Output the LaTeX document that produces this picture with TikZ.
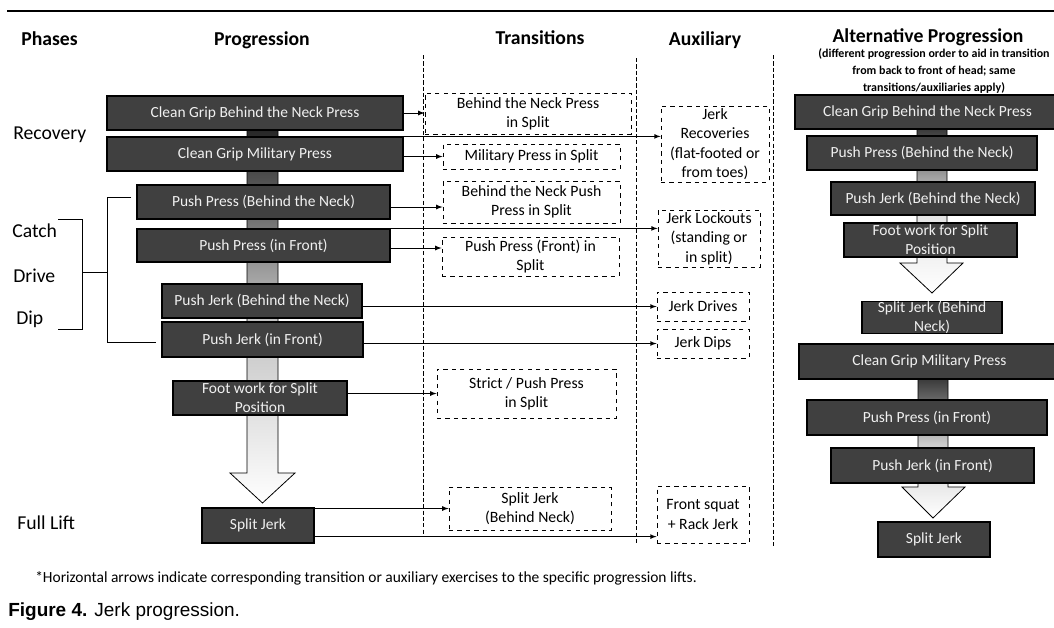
\documentclass[tikz,border=0pt]{standalone}
\usepackage{fontspec}
\setmainfont{Carlito}
\newfontfamily\capfont{Liberation Sans}
\usetikzlibrary{arrows.meta}
\usetikzlibrary{calc}
\tikzset{>=latex}
\definecolor{boxgray}{RGB}{64,64,64}
\tikzstyle{liftbox}=[draw=black,fill=boxgray,text=white!94!black,line width=0.3mm,inner sep=0pt,align=center,font=\fontsize{11}{13.5}\selectfont]
\tikzstyle{extrabox}=[draw=black,dashed,fill=white,line width=0.2mm,inner sep=0pt,align=center,font=\fontsize{11.2}{13.8}\selectfont]
\tikzstyle{colline}=[draw=black,line width=0.2mm,dash pattern=on 3pt off 1.5pt]
\tikzstyle{blackline}=[draw=black,line width=0.2mm]
\tikzstyle{stem}=[draw=black,line width=0.2mm]
\tikzstyle{heading}=[font=\bfseries\fontsize{14}{16}\selectfont]
\tikzstyle{phase}=[anchor=west,inner sep=0pt,font=\fontsize{14}{16}\selectfont]

\begin{document}
\begin{tikzpicture}[x=0.025cm,y=-0.025cm]
    \useasboundingbox (0,0) rectangle (1054,627);
    \draw[line width=1.5pt] (7,11) -- (1054,11);

    \node[heading,anchor=west,inner sep=0pt] (hphase) at (21,39) {Phases};
    \node[heading] (hprog) at (262,40) {Progression};
    \node[heading] (htrans) at (540,38) {Transitions};
    \node[heading] (haux) at (705,40) {Auxiliary};
    \node[heading] (halt) at (928,37) {Alternative Progression};
    \node[align=center,font=\bfseries\fontsize{8.5}{12.3}\selectfont] (haltsub) at (934,71)
        {(different progression order to aid in transition\\from back to front of head; same\\transitions/auxiliaries apply)};

    \draw[colline] (423,55) -- (423,537);
    \draw[colline] (636,58) -- (636,545);
    \draw[colline] (773,55) -- (773,547);

    \node[phase] (precov) at (13,135) {Recovery};
    \node[phase] (pcatch) at (12,231) {Catch};
    \node[phase] (pdrive) at (13,276) {Drive};
    \node[phase] (pdip) at (16,319) {Dip};
    \node[phase] (pfull) at (17,523) {Full Lift};
    \draw[blackline] (58,219) -- (82,219) -- (82,329) -- (58,329);
    \draw[blackline] (82,272) -- (107,272);
    \draw[blackline] (131,197) -- (107,197) -- (107,342) -- (156,342);

    \draw[stem,top color=black!88,bottom color=white,middle color=black!25]
        (247,120) -- (247,473) -- (230,473) -- (262.5,503) -- (295,473) -- (278,473) -- (278,120) -- cycle;
    \draw[stem,top color=black!85,bottom color=white,middle color=black!12]
        (917,120) -- (917,263) -- (900,263) -- (932,293) -- (963,263) -- (947,263) -- (947,120) -- cycle;
    \draw[stem,top color=black!85,bottom color=white,middle color=black!20]
        (918,370) -- (918,487) -- (902,487) -- (933,518) -- (965,487) -- (948,487) -- (948,370) -- cycle;

    \node[liftbox,minimum width=7.4cm,minimum height=0.85cm] (cgbn) at (255,113) {Clean Grip Behind the Neck Press};
    \node[liftbox,minimum width=7.4cm,minimum height=0.85cm] (cgmp) at (255,154) {Clean Grip Military Press};
    \node[liftbox,minimum width=6.325cm,minimum height=0.85cm] (ppbn) at (263.5,202) {Push Press (Behind the Neck)};
    \node[liftbox,minimum width=6.325cm,minimum height=0.825cm] (ppf) at (263.5,245.5) {Push Press (in Front)};
    \node[liftbox,minimum width=5cm,minimum height=0.85cm] (pjbn) at (262,301) {Push Jerk (Behind the Neck)};
    \node[liftbox,minimum width=5.025cm,minimum height=0.875cm] (pjf) at (262.5,339.5) {Push Jerk (in Front)};
    \node[liftbox,minimum width=4.35cm,minimum height=0.85cm] (fw) at (260,398) {Foot work for Split\\Position};
    \node[liftbox,minimum width=2.8cm,minimum height=0.875cm] (sj) at (258,525.5) {Split Jerk};

    \node[liftbox,minimum width=6.625cm,minimum height=0.85cm] (acgbn) at (927.5,112) {Clean Grip Behind the Neck Press};
    \node[liftbox,minimum width=5.75cm,minimum height=0.85cm] (appbn) at (922,153) {Push Press (Behind the Neck)};
    \node[liftbox,minimum width=5.1cm,minimum height=0.825cm] (apjbn) at (933,198.5) {Push Jerk (Behind the Neck)};
    \node[liftbox,minimum width=4.325cm,minimum height=0.85cm] (afw) at (930.5,240) {Foot work for Split\\Position};
    \node[liftbox,minimum width=3.5cm,minimum height=0.775cm] (asjbn) at (932,317.5) {Split Jerk (Behind\\Neck)};
    \node[liftbox,minimum width=6.525cm,minimum height=0.875cm] (acgmp) at (929.5,361.5) {Clean Grip Military Press};
    \node[liftbox,minimum width=6cm,minimum height=0.875cm] (appf) at (927,417.5) {Push Press (in Front)};
    \node[liftbox,minimum width=5.075cm,minimum height=0.875cm] (apjf) at (932.5,465.5) {Push Jerk (in Front)};
    \node[liftbox,minimum width=2.8cm,minimum height=0.875cm] (asj) at (934,539.5) {Split Jerk};

    \node[extrabox,minimum width=5.15cm,minimum height=1.025cm] (trbn) at (528,113.5) {Behind the Neck Press\\in Split};
    \node[extrabox,minimum width=4.425cm,minimum height=0.625cm] (trmp) at (531.5,156.5) {Military Press in Split};
    \node[extrabox,minimum width=4.425cm,minimum height=1.05cm] (trbnpp) at (531.5,202) {Behind the Neck Push\\Press in Split};
    \node[extrabox,minimum width=4.425cm,minimum height=0.975cm] (trppf) at (530.5,256.5) {Push Press (Front) in\\Split};
    \node[extrabox,minimum width=4.475cm,minimum height=1.225cm] (trsp) at (526.5,393.5) {Strict / Push Press\\in Split};
    \node[extrabox,minimum width=4.05cm,minimum height=1.075cm] (trsj) at (530,508.5) {Split Jerk\\(Behind Neck)};

    \node[extrabox,minimum width=2.7cm,minimum height=1.9cm] (axrec) at (715,144) {Jerk\\Recoveries\\(flat-footed or\\from toes)};
    \node[extrabox,minimum width=2.55cm,minimum height=1.425cm] (axlock) at (709,238.5) {Jerk Lockouts\\(standing or\\in split)};
    \node[extrabox,minimum width=2.3cm,minimum height=0.725cm] (axdrive) at (703,306.5) {Jerk Drives};
    \node[extrabox,minimum width=2.3cm,minimum height=0.725cm] (axdip) at (703,343.5) {Jerk Dips};
    \node[extrabox,minimum width=2.3cm,minimum height=1.425cm] (axrack) at (703,514.5) {Front squat\\+ Rack Jerk};

    \draw[->,blackline] (cgbn.east) -- (cgbn.east -| trbn.west);
    \draw[->,blackline] (cgmp.north east) -- (cgmp.north east -| axrec.west);
    \draw[->,blackline] (cgmp.east |- trmp.west) -- (trmp.west);
    \draw[->,blackline] ($(ppbn.east)+(0,5)$) -- ($(ppbn.east -| trbnpp.west)+(0,5)$);
    \draw[->,blackline] (ppf.north east) -- (ppf.north east -| axlock.west);
    \draw[->,blackline] ($(ppf.east)+(0,2.5)$) -- ($(ppf.east -| trppf.west)+(0,2.5)$);
    \draw[->,blackline] (pjbn.east |- axdrive.west) -- (axdrive.west);
    \draw[->,blackline] (pjf.east |- axdip.west) -- (axdip.west);
    \draw[->,blackline] (fw.east |- trsp.west) -- (trsp.west);
    \draw[->,blackline] (sj.east |- trsj.west) -- (trsj.west);
    \draw[->,blackline] ($(sj.south east)+(0,-7)$) -- ($(sj.south east -| axrack.west)+(0,-7)$);

    \node[anchor=west,inner sep=0pt,font=\fontsize{11}{13}\selectfont] (fnote) at (35,578)
        {*Horizontal arrows indicate corresponding transition or auxiliary exercises to the specific progression lifts.};
    \node[anchor=west,inner sep=0pt,font=\capfont\fontsize{13.5}{15}\selectfont] (caption) at (8,612) {\textbf{Figure 4.} Jerk progression.};
\end{tikzpicture}
\end{document}
